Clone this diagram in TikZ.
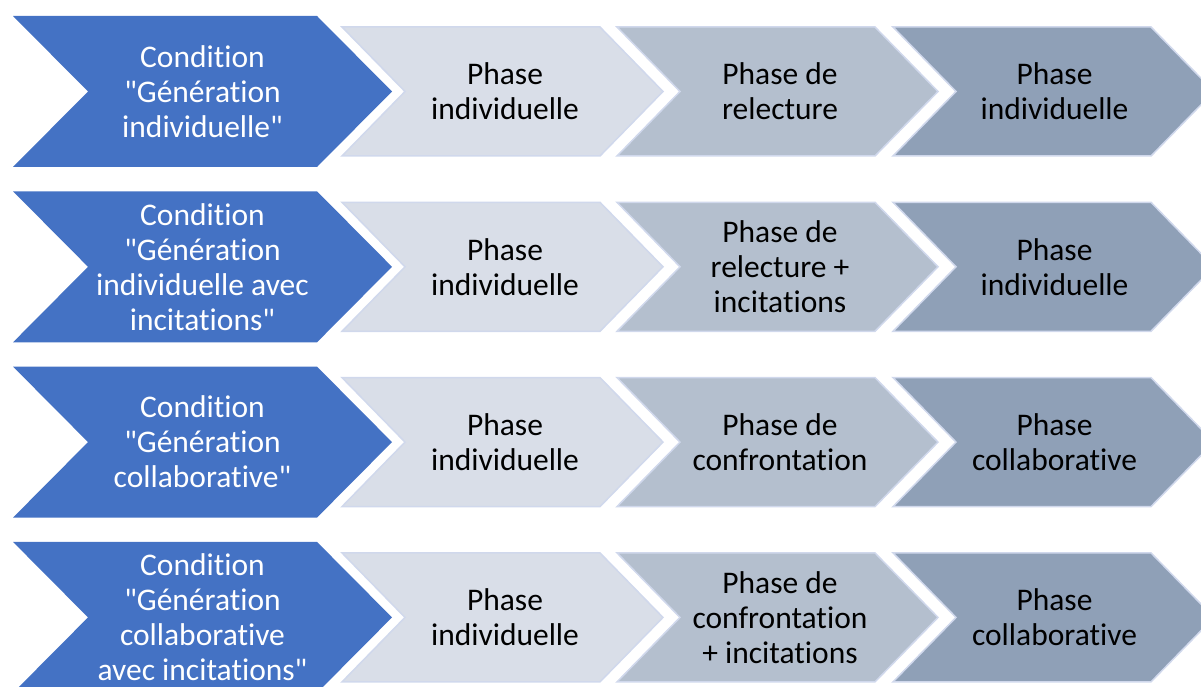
\documentclass[tikz,border=0pt]{standalone}
\usepackage{fontspec}
\setmainfont{Carlito}[Ligatures={TeXOff,NoCommon}]
\definecolor{CondBlue}{RGB}{68,114,196}
\definecolor{PhaseLight}{RGB}{217,222,232}
\definecolor{PhaseMid}{RGB}{180,191,206}
\definecolor{PhaseDark}{RGB}{143,160,183}
\definecolor{PhaseEdge}{RGB}{208,216,236}

\tikzset{
  condtext/.style={align=center, text=white, font=\fontsize{31.5}{35}\selectfont},
  phasetext/.style={align=center, text=black, font=\fontsize{31.5}{35}\selectfont},
}

\begin{document}
\begin{tikzpicture}[x=1pt, y=-1pt]
    \clip (0,0) rectangle (1201,687);
    % chevrons
    \foreach \r in {0,...,3} {
        \pgfmathsetmacro{\yt}{16+175.3*\r}
        \fill[CondBlue] (13,\yt) -- ++(304,0) -- ++(75,75.5) -- ++(-75,75.5) -- ++(-304,0) -- ++(75,-75.5) -- cycle;
        \foreach \x/\c in {342/PhaseLight, 617/PhaseMid, 893/PhaseDark} {
            \draw[fill=\c, draw=PhaseEdge, line width=1.5] (\x,\yt+11) -- ++(258,0) -- ++(63,64.5) -- ++(-63,64.5) -- ++(-258,0) -- ++(63,-64.5) -- cycle;
        }
    }

    \node (Cond1) [condtext] at (202.5,91.5) {Condition\\"Génération\\individuelle"};
    \node (Indiv1) [phasetext] at (505,91.5) {Phase\\individuelle};
    \node (Relect1) [phasetext] at (780,91.5) {Phase de\\relecture};
    \node (Final1) [phasetext] at (1054.5,91.5) {Phase\\individuelle};

    \node (Cond2) [condtext] at (202.5,266.8) {Condition\\"Génération\\individuelle avec\\incitations"};
    \node (Indiv2) [phasetext] at (505,266.8) {Phase\\individuelle};
    \node (Relect2) [phasetext] at (780,266.8) {Phase de\\relecture +\\incitations};
    \node (Final2) [phasetext] at (1054.5,266.8) {Phase\\individuelle};

    \node (Cond3) [condtext] at (202.5,442.1) {Condition\\"Génération\\collaborative"};
    \node (Indiv3) [phasetext] at (505,442.1) {Phase\\individuelle};
    \node (Confr3) [phasetext] at (780,442.1) {Phase de\\confrontation};
    \node (Final3) [phasetext] at (1054.5,442.1) {Phase\\collaborative};

    \node (Cond4) [condtext] at (202.5,617.4) {Condition\\"Génération\\collaborative\\avec incitations"};
    \node (Indiv4) [phasetext] at (505,617.4) {Phase\\individuelle};
    \node (Confr4) [phasetext] at (780,617.4) {Phase de\\confrontation\\+ incitations};
    \node (Final4) [phasetext] at (1054.5,617.4) {Phase\\collaborative};
\end{tikzpicture}
\end{document}
